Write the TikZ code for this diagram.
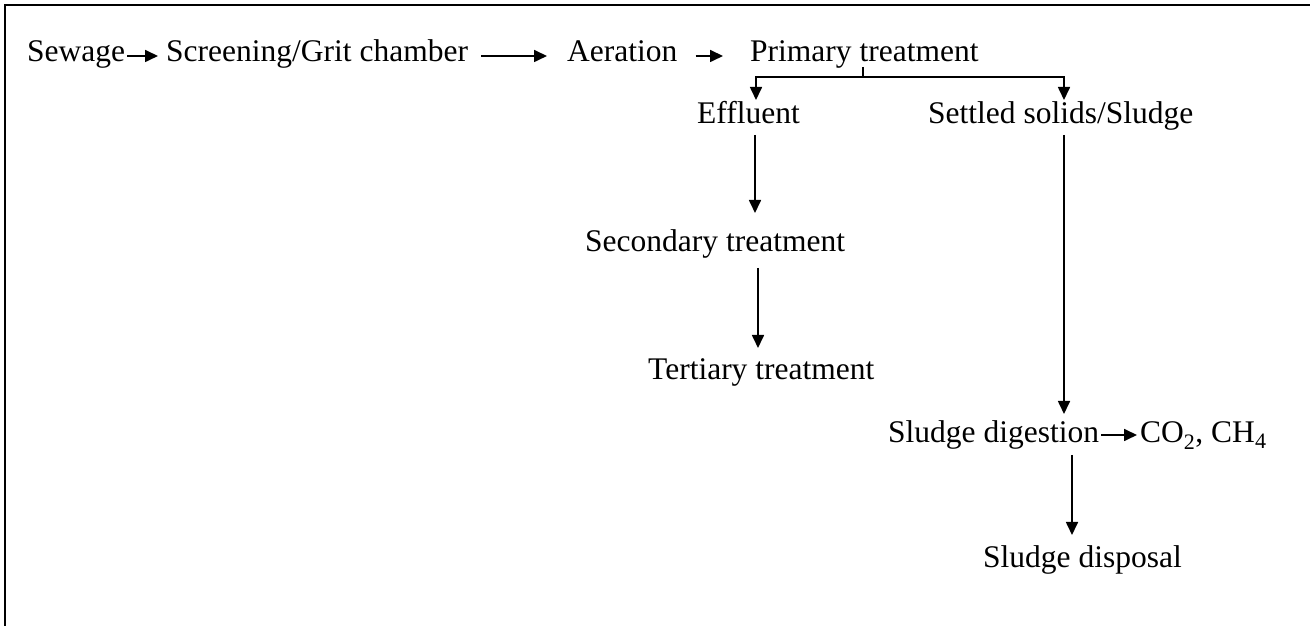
\documentclass[tikz,border=0pt]{standalone}
\usepackage{fontspec}
\setmainfont{Liberation Serif}
\usetikzlibrary{arrows.meta}
\tikzset{
  lbl/.style={font=\fontsize{31.5pt}{36pt}\selectfont, inner sep=0pt, anchor=base west},
  arr/.style={line width=1.7pt, -{Triangle[length=13pt,width=12pt]}},
  conn/.style={line width=1.7pt},
  frame/.style={line width=2.5pt}
}
\begin{document}
\begin{tikzpicture}[x=1pt,y=1pt]
\useasboundingbox (0,0) rectangle (1310,626);
\draw[frame] (5,-2) -- (5,621) -- (1312,621);

% row 1
\node[lbl] (sewage) at (27,564) {Sewage};
\node[lbl] (screen) at (166,564) {Screening/Grit chamber};
\node[lbl] (aer) at (567,564) {Aeration};
\node[lbl] (prim) at (750,564) {Primary treatment};
% row 2
\node[lbl] (eff) at (697,502) {Effluent};
\node[lbl] (settled) at (928,502) {Settled solids/Sludge};
% lower
\node[lbl] (sec) at (585,374) {Secondary treatment};
\node[lbl] (ter) at (648,246) {Tertiary treatment};
\node[lbl] (dig) at (888,183) {Sludge digestion};
\node[lbl] (gas) at (1140,183) {CO\textsubscript{2}, CH\textsubscript{4}};
\node[lbl] (disp) at (983,58) {Sludge disposal};

% row 1 arrows
\draw[arr] ([shift={(2,6)}]sewage.base east) -- ([shift={(-8,6)}]screen.base west);
\draw[arr] ([shift={(13,6)}]screen.base east) -- ([shift={(-20,6)}]aer.base west);
\draw[arr] ([shift={(18,6)}]aer.base east) -- ([shift={(-27,6)}]prim.base west);

% split
\coordinate (tick) at ([shift={(113,-5)}]prim.base west);
\coordinate (fork) at ([shift={(113,-15)}]prim.base west);
\draw[conn] (tick) -- (fork);
\draw[arr] (fork) -| ([shift={(59,24)}]eff.base west);
\draw[arr] (fork) -| ([shift={(136,24)}]settled.base west);

% verticals
\draw[arr] ([shift={(58,-11)}]eff.base west) -- ([shift={(170,39)}]sec.base west);
\draw[arr] ([shift={(173,-16)}]sec.base west) -- ([shift={(110,32)}]ter.base west);
\draw[arr] ([shift={(136,-11)}]settled.base west) -- ([shift={(176,29)}]dig.base west);
\draw[arr] ([shift={(2,8)}]dig.base east) -- ([shift={(-3,8)}]gas.base west);
\draw[arr] ([shift={(184,-12)}]dig.base west) -- ([shift={(89,33)}]disp.base west);
\end{tikzpicture}
\end{document}
